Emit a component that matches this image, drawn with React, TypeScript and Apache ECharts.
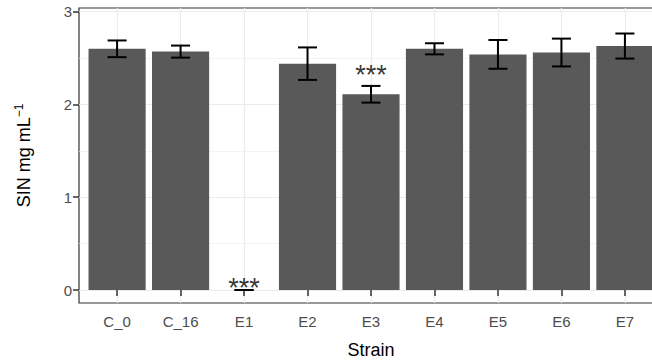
import React, { useEffect, useRef } from "react";
import * as echarts from "echarts";

const categories = ["C_0", "C_16", "E1", "E2", "E3", "E4", "E5", "E6", "E7"];
const means = [2.6, 2.57, 0, 2.44, 2.11, 2.6, 2.54, 2.56, 2.63];
const errors = [0.09, 0.065, 0, 0.175, 0.09, 0.06, 0.155, 0.15, 0.135];
const signif = ["", "", "***", "", "***", "", "", "", ""];
const signifY = [0, 0, 0.02, 0, 2.32, 0, 0, 0, 0];
const yTicks = [0, 1, 2, 3];
const yMinor = [0.5, 1.5, 2.5];
const xTicks = categories.map((_, i) => i + 1);

const FONT = "Liberation Sans, Arial, sans-serif";

export default function App() {
  const ref = useRef<HTMLDivElement>(null);
  useEffect(() => {
    if (!ref.current) return;
    const chart = echarts.init(ref.current, null, { renderer: "svg" });
    const gridColor = "#EBEBEB";
    chart.setOption({
      animation: false,
      backgroundColor: "#FFFFFF",
      grid: {
        left: 79,
        top: 8,
        bottom: 61,
        right: 7,
        show: true,
        borderColor: "#333333",
        borderWidth: 1.2,
        backgroundColor: "transparent",
      },
      xAxis: {
        type: "value",
        min: 0.4,
        max: 9.6,
        name: "Strain",
        nameLocation: "middle",
        nameGap: 38,
        nameTextStyle: { fontFamily: FONT, fontSize: 18, color: "#000" },
        axisLine: { show: false },
        axisTick: {
          show: true,
          customValues: xTicks,
          length: 6,
          lineStyle: { color: "#333333", width: 1.5 },
        },
        axisLabel: {
          customValues: xTicks,
          formatter: (v: number) => categories[Math.round(v) - 1] ?? "",
          fontFamily: FONT,
          fontSize: 15,
          color: "#4D4D4D",
          margin: 11,
        },
        splitLine: { show: false },
      },
      yAxis: {
        type: "value",
        min: -0.14,
        max: 3.04,
        name: "SIN mg mL{sup|−1}",
        nameLocation: "middle",
        nameGap: 44,
        nameRotate: 90,
        nameTextStyle: {
          fontFamily: FONT,
          fontSize: 18,
          color: "#000",
          rich: {
            sup: { fontFamily: FONT, fontSize: 12, verticalAlign: "top", padding: [0, 0, 10, 0] },
          },
        },
        axisLine: { show: false },
        axisTick: {
          show: true,
          customValues: yTicks,
          length: 6,
          lineStyle: { color: "#333333", width: 1.5 },
        },
        axisLabel: {
          customValues: yTicks,
          fontFamily: FONT,
          fontSize: 15,
          color: "#4D4D4D",
          margin: 7,
        },
        splitLine: { show: false },
      },
      series: [
        {
          type: "line",
          data: [],
          z: 0,
          silent: true,
          markLine: {
            silent: true,
            symbol: "none",
            z: 0,
            label: { show: false },
            data: [
              ...yMinor.map((v) => ({ yAxis: v, lineStyle: { color: gridColor, width: 0.6, type: "solid" } })),
              ...yTicks.map((v) => ({ yAxis: v, lineStyle: { color: gridColor, width: 1.2, type: "solid" } })),
              ...xTicks.map((v) => ({ xAxis: v, lineStyle: { color: gridColor, width: 1.2, type: "solid" } })),
            ],
          },
        },
        {
          type: "bar",
          z: 2,
          barWidth: "90%",
          itemStyle: { color: "#595959" },
          data: means.map((m, i) => [i + 1, m]),
        },
        {
          type: "custom",
          z: 3,
          data: means.map((m, i) => [i + 1, m - errors[i], m + errors[i]]),
          renderItem: (params: any, api: any) => {
            const x = api.value(0);
            const lo = api.coord([x, api.value(1)]);
            const hi = api.coord([x, api.value(2)]);
            const half = api.size([0.15, 0])[0];
            const style = { stroke: "#000", lineWidth: 2, fill: "none" };
            return {
              type: "group",
              children: [
                { type: "line", shape: { x1: hi[0], y1: hi[1], x2: lo[0], y2: lo[1] }, style },
                { type: "line", shape: { x1: hi[0] - half, y1: hi[1], x2: hi[0] + half, y2: hi[1] }, style },
                { type: "line", shape: { x1: lo[0] - half, y1: lo[1], x2: lo[0] + half, y2: lo[1] }, style },
              ],
            };
          },
        },
        {
          type: "scatter",
          z: 4,
          symbolSize: 0,
          silent: true,
          data: signif
            .map((s, i) => ({ value: [i + 1, signifY[i]], s }))
            .filter((d) => d.s !== ""),
          label: {
            show: true,
            position: "inside",
            formatter: (p: any) => p.data.s,
            fontFamily: FONT,
            fontSize: 27,
            color: "#000",
          },
        },
      ],
    });
    return () => chart.dispose();
  }, []);
  return (
    <div style={{ position: "absolute", left: 0, top: 0, width: 652, height: 364, overflow: "hidden" }}>
      <div ref={ref} style={{ width: 670, height: 364 }} />
    </div>
  );
}
